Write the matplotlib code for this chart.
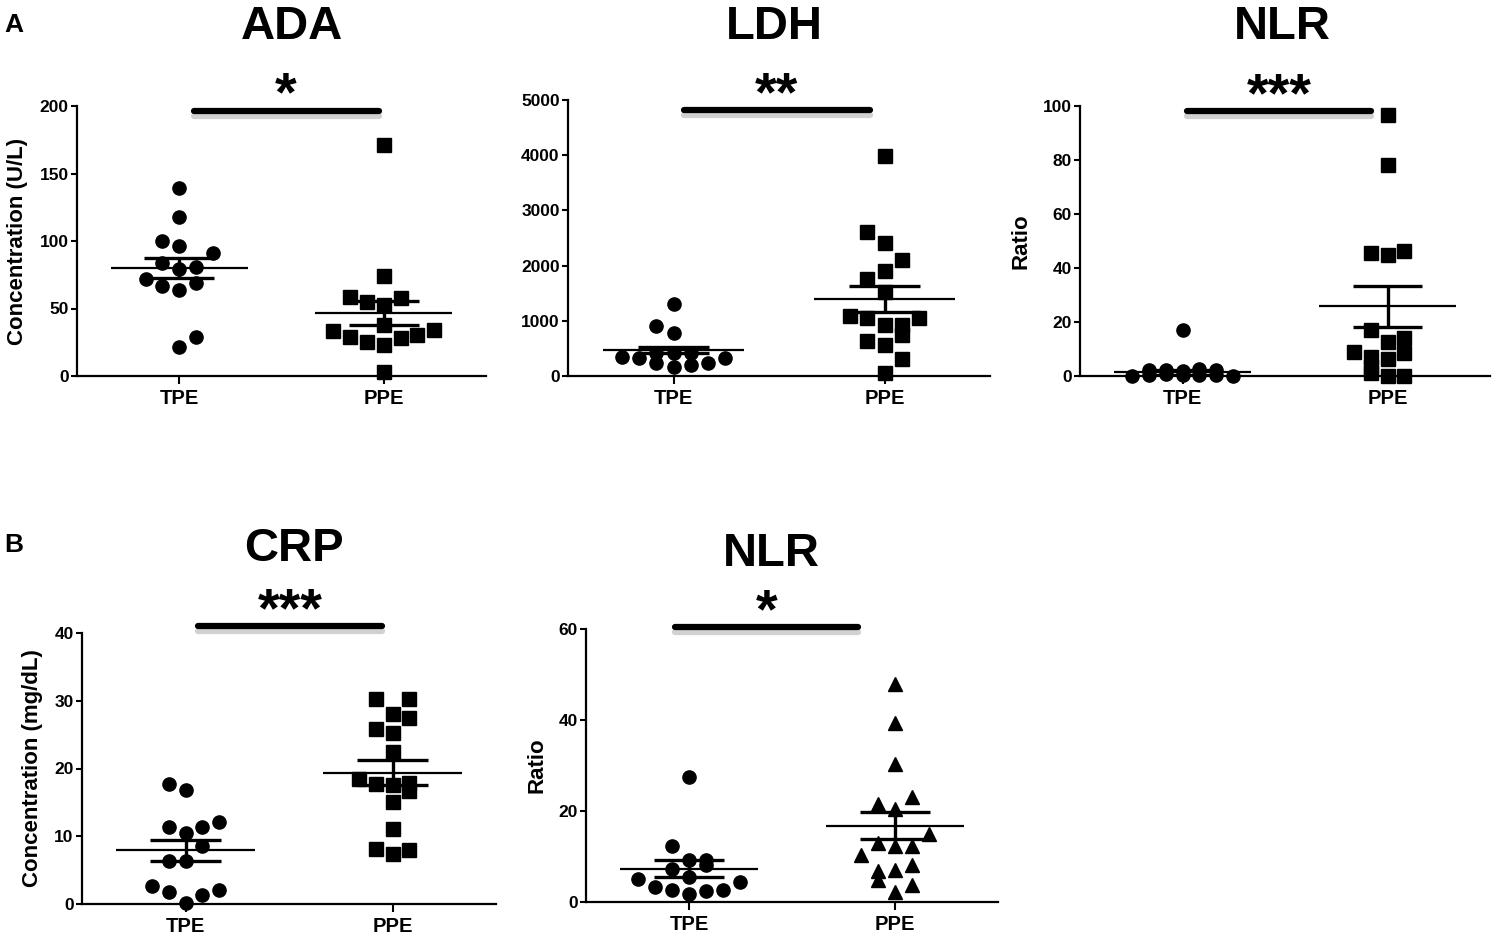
import matplotlib
matplotlib.use("Agg")
import numpy as np
import matplotlib.pyplot as plt
import matplotlib.patheffects as pe

plt.rcParams['font.family'] = ['Liberation Sans', 'DejaVu Sans']

W, H = 1496, 936
groups = ["TPE", "PPE"]

# ADA (U/L)
ada_tpe = [139, 117.5, 100, 96.5, 91, 83.5, 81, 79, 71.6, 68.6, 67, 63.7, 29, 21.7]
ada_ppe = [171, 74, 58.8, 55, 52.6, 57.5, 37.8, 33.6, 28.6, 25.4, 23, 27.9, 30.4, 34, 3.2]
ada_mean = [80, 46.5]
ada_sem = [7.5, 9.0]

# LDH (U/L)
ldh_tpe = [1305, 912, 773, 350, 320, 230, 169, 199, 230, 320, 410, 410, 410]
ldh_ppe = [3986, 2603, 2404, 2102, 1903, 1758, 1528, 1093, 1045, 924, 924, 1045,
           743, 634, 562, 302, 48]
ldh_mean = [470, 1395]
ldh_sem = [60, 240]

# NLR, panel A
nlr_a_tpe = [17, 0, 0.3, 0.6, 0.4, 0.5, 0.3, 0, 2.2, 2.4, 2.0, 2.5, 2.1]
nlr_a_ppe = [96.5, 78, 45.6, 44.8, 46.2, 17, 12.7, 13.9, 9, 7.2, 8.4, 6.2, 3.5, 1, 0, 0]
nlr_a_mean = [1.3, 25.8]
nlr_a_sem = [0.9, 7.7]

# CRP (mg/dL)
crp_tpe = [17.7, 16.8, 12.1, 11.3, 11.3, 10.5, 8.6, 6.4, 6.4, 2.7, 2.1, 1.7, 1.3, 0.2]
crp_ppe = [30.2, 30.2, 28, 27.4, 25.9, 25.2, 22.5, 18.5, 17.7, 17.5, 17.9, 16.7,
           15, 11, 8.1, 7.4, 7.9]
crp_mean = [7.9, 19.4]
crp_sem = [1.55, 1.8]

# NLR, panel B
nlr_b_tpe = [27.5, 12.3, 9.3, 9.3, 8.1, 7.3, 5.4, 5.1, 4.3, 3.2, 2.6, 2.4, 2.6, 1.7]
nlr_b_ppe = [48, 39.3, 30.4, 23.1, 21.5, 20.5, 15, 13, 12.3, 12.3, 10.3, 6.8, 7.1,
             8.1, 4.8, 3.7, 2.2]
nlr_b_mean = [7.3, 16.8]
nlr_b_sem = [1.85, 2.95]

# horizontal slot of each point in the scatter (layout only)
ada_tpe_slot = [0, 0, -1, 0, 2, -1, 1, 0, -2, 1, -1, 0, 1, 0]
ada_ppe_slot = [0, 0, -2, -1, 0, 1, 0, -3, -2, -1, 0, 1, 2, 3, 0]
ldh_tpe_slot = [0, -1, 0, -3, -2, -1, 0, 1, 2, 3, -1, 0, 1]
ldh_ppe_slot = [0, -1, 0, 1, 0, -1, 0, -2, -1, 0, 1, 2, 1, -1, 0, 1, 0]
nlr_a_tpe_slot = [0, -3, -2, -1, 0, 1, 2, 3, -2, -1, 0, 1, 2]
nlr_a_ppe_slot = [0, 0, -1, 0, 1, -1, 0, 1, -2, -1, 1, 0, -1, -1, 0, 1]
crp_tpe_slot = [-1, 0, 2, -1, 1, 0, 1, -1, 0, -2, 2, -1, 1, 0]
crp_ppe_slot = [-1, 1, 0, 1, -1, 0, 0, -2, -1, 0, 1, 1, 0, 0, -1, 0, 1]
nlr_b_tpe_slot = [0, -1, 0, 1, 1, -1, 0, -3, 3, -2, -1, 1, 2, 0]
nlr_b_ppe_slot = [0, 0, 0, 1, -1, 0, 2, -1, 0, 1, -2, -1, 0, 1, -1, 1, 0]

SLOT = 0.082

panels = [
    dict(title="ADA", ylabel="Concentration (U/L)", box=(77, 106, 486, 376),
         ylim=200, step=50, data=(ada_tpe, ada_ppe), slots=(ada_tpe_slot, ada_ppe_slot),
         mean=ada_mean, sem=ada_sem, marks=("o", "s"), stars="*",
         bar=(0.07, 0.975, 196.5), tpos=(292, 39)),
    dict(title="LDH", ylabel="", box=(568, 100, 990, 376),
         ylim=5000, step=1000, data=(ldh_tpe, ldh_ppe), slots=(ldh_tpe_slot, ldh_ppe_slot),
         mean=ldh_mean, sem=ldh_sem, marks=("o", "s"), stars="**",
         bar=(0.05, 0.93, 4810), tpos=(774, 39)),
    dict(title="NLR", ylabel="Ratio", box=(1080, 106, 1490, 376),
         ylim=100, step=20, data=(nlr_a_tpe, nlr_a_ppe), slots=(nlr_a_tpe_slot, nlr_a_ppe_slot),
         mean=nlr_a_mean, sem=nlr_a_sem, marks=("o", "s"), stars="***",
         bar=(0.02, 0.92, 98.2), tpos=(1282, 39)),
    dict(title="CRP", ylabel="Concentration (mg/dL)", box=(82, 633, 496, 904),
         ylim=40, step=10, data=(crp_tpe, crp_ppe), slots=(crp_tpe_slot, crp_ppe_slot),
         mean=crp_mean, sem=crp_sem, marks=("o", "s"), stars="***",
         bar=(0.06, 0.95, 41), tpos=(294, 561)),
    dict(title="NLR", ylabel="Ratio", box=(586, 629, 998, 902),
         ylim=60, step=20, data=(nlr_b_tpe, nlr_b_ppe), slots=(nlr_b_tpe_slot, nlr_b_ppe_slot),
         mean=nlr_b_mean, sem=nlr_b_sem, marks=("o", "^"), stars="*",
         bar=(-0.07, 0.82, 60.4), tpos=(771, 566)),
]

fig = plt.figure(figsize=(W / 100, H / 100), dpi=100)

for p in panels:
    l, t, r, b = p["box"]
    ax = fig.add_axes([l / W, 1 - b / H, (r - l) / W, (b - t) / H])
    ax.set_xlim(-0.5, 1.5)
    ax.set_ylim(0, p["ylim"])
    ax.set_yticks(np.arange(0, p["ylim"] + 1, p["step"]))
    ax.set_xticks([0, 1], groups)
    for side in ("top", "right"):
        ax.spines[side].set_visible(False)
    for side in ("left", "bottom"):
        ax.spines[side].set_linewidth(1.6)
    ax.tick_params(axis="y", direction="out", length=4, width=1.5, labelsize=12.5, pad=2)
    ax.tick_params(axis="x", direction="out", length=6, width=1.5, labelsize=14.5, pad=3)
    for lab in ax.get_xticklabels() + ax.get_yticklabels():
        lab.set_fontweight("bold")
    if p["ylabel"]:
        ax.set_ylabel(p["ylabel"], fontsize=16, fontweight="bold", labelpad=8)

    for i in range(2):
        vals = np.array(p["data"][i])
        xs = i + SLOT * np.array(p["slots"][i])
        ms = 10.5 if p["marks"][i] == "^" else 9.5
        ax.plot(xs, vals, ls="none", marker=p["marks"][i], ms=ms, color="black",
                mec="black", clip_on=False, zorder=3)
        m, s = p["mean"][i], p["sem"][i]
        ax.hlines(m, i - 0.335, i + 0.335, color="black", lw=1.6, zorder=4)
        ax.hlines([m - s, m + s], i - 0.17, i + 0.17, color="black", lw=2.4, zorder=4)
        ax.vlines(i, m - s, m + s, color="black", lw=2.4, zorder=4)

    # significance bar with its soft grey shadow
    x0, x1, yb = p["bar"]
    ax.plot([x0, x1], [yb, yb], color="black", lw=4.5, solid_capstyle="round",
            clip_on=False, zorder=5,
            path_effects=[pe.SimpleLineShadow(offset=(0, -3.5), shadow_color="#9a9a9a", alpha=0.45),
                          pe.Normal()])
    ax.annotate(p["stars"], xy=((x0 + x1) / 2, yb), xytext=(0, 0), textcoords="offset points",
                ha="center", va="baseline", fontsize=40, fontweight="bold",
                annotation_clip=False)

    tx, ty = p["tpos"]
    fig.text(tx / W, 1 - ty / H, p["title"], ha="center", va="baseline",
             fontsize=34, fontweight="bold")

fig.text(4 / W, 1 - 32 / H, "A", ha="left", va="baseline", fontsize=19, fontweight="bold")
fig.text(4 / W, 1 - 552 / H, "B", ha="left", va="baseline", fontsize=19, fontweight="bold")

fig.savefig("out.png", dpi=100)
